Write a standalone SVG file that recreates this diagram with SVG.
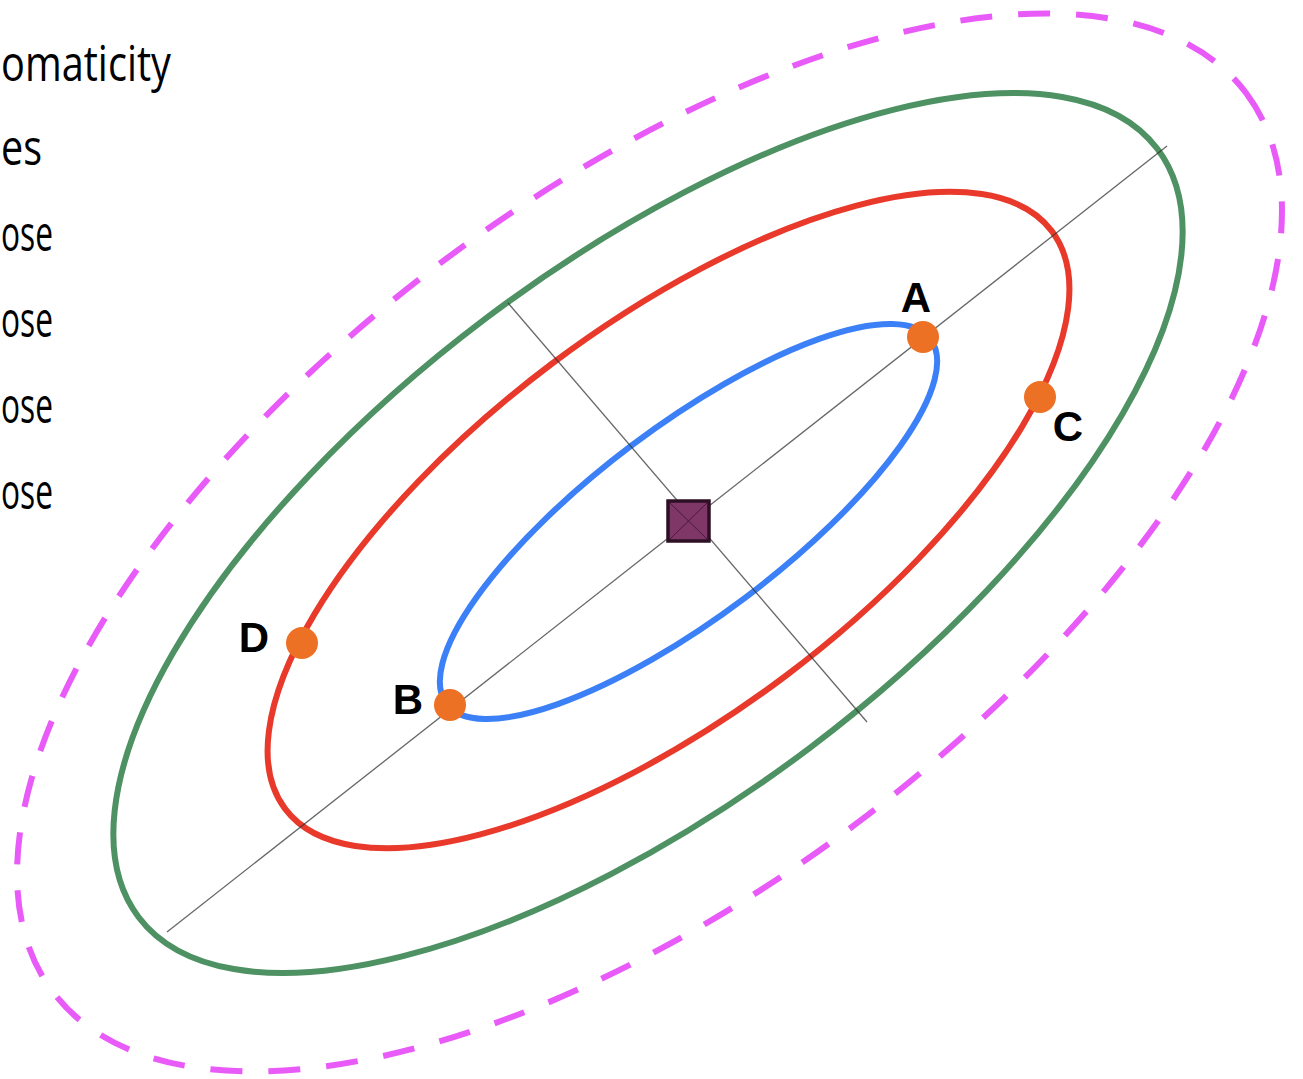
<svg xmlns="http://www.w3.org/2000/svg" width="1303" height="1079" viewBox="0 0 1303 1079">
<style>
.side{font-family:"Open Sans","Liberation Sans",sans-serif;font-size:50px;fill:#000}
.ell{fill:none;stroke-width:6}
.axis{stroke:#333;stroke-width:1.3;stroke-opacity:0.75;fill:none}
.pt{fill:#ED7125}
.lbl{font-family:"Liberation Sans",Arial,sans-serif;font-weight:bold;font-size:42px;fill:#000;text-anchor:middle}
</style>
<rect width="1303" height="1079" fill="#fff"/>
<g id="side-text">
<text class="side" x="1" y="81" textLength="170" lengthAdjust="spacingAndGlyphs">omaticity</text>
<text class="side" x="1" y="165" textLength="41" lengthAdjust="spacingAndGlyphs">es</text>
<text class="side" x="1" y="251" textLength="52" lengthAdjust="spacingAndGlyphs">ose</text>
<text class="side" x="1" y="337" textLength="52" lengthAdjust="spacingAndGlyphs">ose</text>
<text class="side" x="1" y="423" textLength="52" lengthAdjust="spacingAndGlyphs">ose</text>
<text class="side" x="1" y="509" textLength="52" lengthAdjust="spacingAndGlyphs">ose</text>
</g>
<g id="ellipse-magenta"><ellipse class="ell" cx="649.5" cy="542.5" rx="747" ry="349" transform="rotate(-37 649.5 542.5)" stroke="#E95BF9" stroke-width="8" stroke-dasharray="32 26"/></g>
<g id="ellipse-green"><ellipse class="ell" cx="648" cy="533" rx="638" ry="269" transform="rotate(-37 648 533)" stroke="#4E9163"/></g>
<g id="ellipse-red"><ellipse class="ell" cx="668.5" cy="520" rx="480" ry="195" transform="rotate(-37 668.5 520)" stroke="#E8392B"/></g>
<g id="ellipse-blue"><ellipse class="ell" cx="688.5" cy="521.5" rx="303" ry="95" transform="rotate(-37 688.5 521.5)" stroke="#3C80F7"/></g>
<g id="connectors">
<line class="axis" x1="167" y1="932" x2="1167" y2="146"/>
<line class="axis" x1="508" y1="303" x2="867" y2="722"/>
</g>
<g id="center">
<rect x="668" y="501" width="41" height="40" fill="#7E3766" stroke="#2E1024" stroke-width="3.5"/>
<path d="M670 503 L707 539 M707 503 L670 539" stroke="#4A1A3A" stroke-width="1"/>
</g>
<g id="point-A"><circle class="pt" cx="923" cy="337" r="16"/><text class="lbl" x="916" y="312">A</text></g>
<g id="point-B"><circle class="pt" cx="450" cy="705" r="16"/><text class="lbl" x="408" y="714">B</text></g>
<g id="point-C"><circle class="pt" cx="1040" cy="397" r="16"/><text class="lbl" x="1068" y="441">C</text></g>
<g id="point-D"><circle class="pt" cx="302" cy="643" r="16"/><text class="lbl" x="254" y="652">D</text></g>
</svg>
